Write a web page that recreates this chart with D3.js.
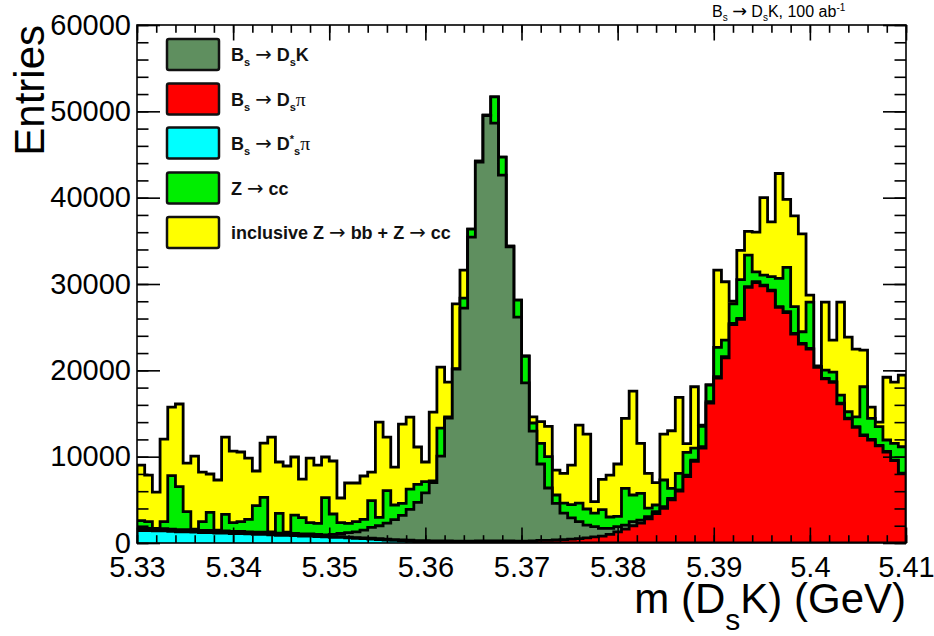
<!DOCTYPE html>
<html>
<head>
<meta charset="utf-8">
<script src="https://cdn.jsdelivr.net/npm/d3@7"></script>
<style>
  body { margin: 0; background: #fff; }
  text { font-family: "Liberation Sans", Arial, Helvetica, sans-serif; }
</style>
</head>
<body>
<svg id="chart" width="934" height="636"></svg>
<script>
// histogram binning
const xMin = 5.33, xMax = 5.41, nBins = 100;

// per-bin entries, one array per sample
const dsStarPi = [1450,1450,1400,1400,1350,1300,1300,1250,1200,1200,
  1150,1150,1100,1100,1050,1000,1000,950,900,900,
  850,800,800,750,700,650,650,600,550,500,
  450,400,350,300,250,200,150,150,100,100,
  80,70,60,50,50,40,40,30,30,20,
  0,0,0,0,0,0,0,0,0,0, 0,0,0,0,0,0,0,0,0,0,
  0,0,0,0,0,0,0,0,0,0, 0,0,0,0,0,0,0,0,0,0, 0,0,0,0,0,0,0,0,0,0];

const dsPi = [80,80,80,80,80,80,80,80,80,80, 80,80,80,80,80,80,80,80,80,80,
  80,80,80,80,80,80,80,80,80,80,
  100,100,100,100,100,120,120,120,150,150,
  150,150,150,150,200,200,200,200,200,200,
  200,250,300,300,350,400,450,500,600,700,
  800,1000,1300,1600,2000,2300,2800,3400,4000,5000,
  6000,7700,9450,11000,16200,19100,21450,25300,25900,29600,
  30150,29800,29200,27300,26700,24200,23050,22450,20350,19000,
  18600,16130,14380,13400,12440,11930,11240,10540,9540,8040];

const dsK = [170,170,170,170,170,170,170,170,170,170, 170,170,170,170,170,170,170,170,170,170,
  170,170,170,170,170,270,370,520,670,920,
  1250,1500,1850,2300,2850,3580,4430,5530,6750,9820,
  14240,19930,27000,35230,43870,49260,48400,42380,34070,25950,
  18340,12720,8850,6070,4240,3070,2450,1970,1480,1190,
  900,700,590,480,470,360,250,230,210,170,
  140,170,160,160,170,160,130,140,120,90,
  110,80,100,70,90,80,70,90,70,70,
  80,80,70,70,70,70,60,60,60,60];

const zcc = [890,770,50,820,6200,4970,2080,100,1020,2100,
  100,1920,1010,1120,1440,3070,4040,100,2290,100,
  2140,1880,1310,1280,4300,2360,1260,1080,1170,1240,
  3100,970,3760,1700,1390,2350,2090,1300,200,3230,
  130,50,1160,930,100,60,3040,2090,90,1970,
  3090,930,2390,3630,970,1160,1540,2160,1860,1580,
  2160,1310,1200,4250,3090,3090,1000,770,3090,1160,
  1930,2630,1390,2350,1930,3400,1920,2260,4480,3660,
  1140,1150,1550,3280,5130,3090,1350,5360,30,960,
  1120,930,750,1130,5590,2440,2170,1330,1940,3050];

const inclusive = [6440,5400,4200,9570,7950,9580,5630,8470,5750,4440,
  5800,8950,8290,8070,7100,4020,6290,10970,5940,7670,
  6720,4480,7480,6750,4710,6140,2850,4670,4480,5020,
  3320,11040,6210,4400,9190,8340,4330,2280,7970,7080,
  4040,7500,3230,0,0,0,0,0,0,0,
  50,700,2510,3500,2890,3440,4590,9030,8680,1330,
  3510,4860,6060,8110,12040,5790,4020,2590,5320,6670,
  8800,1000,7100,150,0,8940,6760,300,3400,2750,
  4600,8970,6350,12150,7880,10530,11330,800,50,7870,
  3700,10760,8650,7860,4250,1310,530,7270,7100,8300];

// stack order bottom -> top
const keys = ["dsStarPi", "dsPi", "dsK", "zcc", "inclusive"];
const colors = {dsK: "#5f8f5f", dsPi: "#ff0000", dsStarPi: "#00ffff", zcc: "#00ee00", inclusive: "#ffff00"};

const xTicks = [5.33, 5.34, 5.35, 5.36, 5.37, 5.38, 5.39, 5.40, 5.41];
const xTickLabels = ["5.33", "5.34", "5.35", "5.36", "5.37", "5.38", "5.39", "5.4", "5.41"];
const yTicks = [0, 10000, 20000, 30000, 40000, 50000, 60000];

const padL = 137, padR = 906, padT = 25, padB = 543;

const svg = d3.select("#chart");
svg.append("rect").attr("width", 934).attr("height", 636).attr("fill", "#fff");

const x = d3.scaleLinear().domain([xMin, xMax]).range([padL, padR]);
const y = d3.scaleLinear().domain([0, 60000]).range([padB, padT]);

const binW = (xMax - xMin) / nBins;
const rows = d3.range(nBins).map(i => ({
  lo: xMin + i * binW, hi: xMin + (i + 1) * binW,
  dsStarPi: dsStarPi[i], dsPi: dsPi[i], dsK: dsK[i], zcc: zcc[i], inclusive: inclusive[i]
}));
const layers = d3.stack().keys(keys)(rows);

svg.append("clipPath").attr("id", "plotclip")
  .append("rect").attr("x", padL).attr("y", padT).attr("width", padR - padL).attr("height", padB - padT);

const g = svg.append("g").attr("clip-path", "url(#plotclip)");

function stepPoints(layer) {
  let pts = [];
  layer.forEach(d => {
    pts.push([d.data.lo, d[1]]);
    pts.push([d.data.hi, d[1]]);
  });
  return pts;
}

const area = d3.area().x(p => x(p[0])).y0(y(0)).y1(p => y(p[1]));
const line = d3.line().x(p => x(p[0])).y(p => y(p[1]));

// draw the cumulative histograms from the top one down, like THStack
for (let k = layers.length - 1; k >= 0; k--) {
  let pts = stepPoints(layers[k]);
  g.append("path")
    .attr("d", area(pts))
    .attr("fill", colors[keys[k]]);
  g.append("path")
    .attr("d", line([[xMin, 0]].concat(pts, [[xMax, 0]])))
    .attr("fill", "none")
    .attr("stroke", "#000")
    .attr("stroke-width", 2.8)
    .attr("stroke-linejoin", "miter");
}

// axes (ticks inside, on all four sides)
const xMinor = d3.range(0, 41).map(i => xMin + i * 0.002);
const yMinor = d3.range(0, 31).map(i => i * 2000);

function styleAxis(sel) {
  sel.select(".domain").remove();
  sel.selectAll("line").attr("stroke", "#000").attr("stroke-width", 1.6);
  sel.selectAll("text").attr("fill", "#000").style("font-size", "29px")
    .style("font-family", "Liberation Sans, Arial, sans-serif");
}

svg.append("g").attr("transform", `translate(0,${padB})`)
  .call(d3.axisBottom(x).tickValues(xMinor).tickFormat("").tickSizeInner(-7.8).tickSizeOuter(0))
  .call(styleAxis);
svg.append("g").attr("transform", `translate(0,${padB})`)
  .call(d3.axisBottom(x).tickValues(xTicks).tickFormat((d, i) => xTickLabels[i])
    .tickSizeInner(-15.5).tickSizeOuter(0).tickPadding(13))
  .call(styleAxis);
svg.append("g").attr("transform", `translate(0,${padT})`)
  .call(d3.axisTop(x).tickValues(xMinor).tickFormat("").tickSizeInner(-7.8).tickSizeOuter(0))
  .call(styleAxis);
svg.append("g").attr("transform", `translate(0,${padT})`)
  .call(d3.axisTop(x).tickValues(xTicks).tickFormat("").tickSizeInner(-15.5).tickSizeOuter(0))
  .call(styleAxis);

svg.append("g").attr("transform", `translate(${padL},0)`)
  .call(d3.axisLeft(y).tickValues(yMinor).tickFormat("").tickSizeInner(-11.5).tickSizeOuter(0))
  .call(styleAxis);
svg.append("g").attr("transform", `translate(${padL},0)`)
  .call(d3.axisLeft(y).tickValues(yTicks).tickFormat(d3.format("d"))
    .tickSizeInner(-23).tickSizeOuter(0).tickPadding(6))
  .call(styleAxis);
svg.append("g").attr("transform", `translate(${padR},0)`)
  .call(d3.axisRight(y).tickValues(yMinor).tickFormat("").tickSizeInner(-11.5).tickSizeOuter(0))
  .call(styleAxis);
svg.append("g").attr("transform", `translate(${padR},0)`)
  .call(d3.axisRight(y).tickValues(yTicks).tickFormat("").tickSizeInner(-23).tickSizeOuter(0))
  .call(styleAxis);

// frame
svg.append("rect")
  .attr("x", padL).attr("y", padT).attr("width", padR - padL).attr("height", padB - padT)
  .attr("fill", "none").attr("stroke", "#000").attr("stroke-width", 1.6);

// axis titles
svg.append("text")
  .attr("transform", `translate(44,${padT}) rotate(-90)`)
  .attr("text-anchor", "end")
  .style("font-size", "42px")
  .text("Entries");

const xt = svg.append("text")
  .attr("x", padR).attr("y", 613)
  .attr("text-anchor", "end")
  .style("font-size", "42px");
xt.append("tspan").text("m (D");
xt.append("tspan").attr("dy", 17).style("font-size", "30px").text("s");
xt.append("tspan").attr("dy", -17).text("K) (GeV)");

// rich text helper: parts are [text, kind]
function richText(t, parts, base, sub, subDy, supDy) {
  let shift = 0;
  parts.forEach(p => {
    let target = 0;
    if (p[1] === "sub") target = subDy;
    if (p[1] === "sup") target = supDy;
    const ts = t.append("tspan").attr("dy", target - shift).text(p[0]);
    if (p[1] === "sub" || p[1] === "sup") ts.style("font-size", sub + "px");
    if (p[1] === "arrow") {
      ts.style("font-family", "DejaVu Sans, sans-serif").style("font-weight", "normal")
        .style("font-size", (base * 1.1) + "px");
    }
    if (p[1] === "greek") {
      ts.style("font-family", "Liberation Serif, serif").style("font-weight", "normal")
        .style("font-size", (base * 1.1) + "px");
    }
    shift = target;
  });
}

// title
const tt = svg.append("text").attr("x", 712).attr("y", 17).style("font-size", "16px");
richText(tt, [["B"], ["s", "sub"], [" "], ["\u2192", "arrow"], [" D"], ["s", "sub"],
  ["K, 100 ab"], ["-1", "sup"]], 16, 10, 4, -6);

// legend
const legendItems = [
  {key: "dsK", parts: [["B"], ["s", "sub"], ["  "], ["\u2192", "arrow"], [" D"], ["s", "sub"], ["K"]]},
  {key: "dsPi", parts: [["B"], ["s", "sub"], ["  "], ["\u2192", "arrow"], [" D"], ["s", "sub"], ["\u03c0", "greek"]]},
  {key: "dsStarPi", parts: [["B"], ["s", "sub"], ["  "], ["\u2192", "arrow"], [" D"], ["*", "sup"], ["s", "sub"], ["\u03c0", "greek"]]},
  {key: "zcc", parts: [["Z "], ["\u2192", "arrow"], [" cc"]]},
  {key: "inclusive", parts: [["inclusive Z "], ["\u2192", "arrow"], [" bb + Z "], ["\u2192", "arrow"], [" cc"]]}
];
const legendTop = [39, 83.5, 127.5, 172.5, 217];

legendItems.forEach((item, i) => {
  svg.append("rect")
    .attr("x", 167).attr("y", legendTop[i]).attr("width", 52).attr("height", 31)
    .attr("rx", 2)
    .attr("fill", colors[item.key]).attr("stroke", "#111").attr("stroke-width", 2.5);
  const t = svg.append("text")
    .attr("x", 231).attr("y", legendTop[i] + 22)
    .style("font-size", "18px").style("font-weight", "bold").attr("fill", "#111");
  richText(t, item.parts, 18, 11, 5, -7);
});
</script>
</body>
</html>
